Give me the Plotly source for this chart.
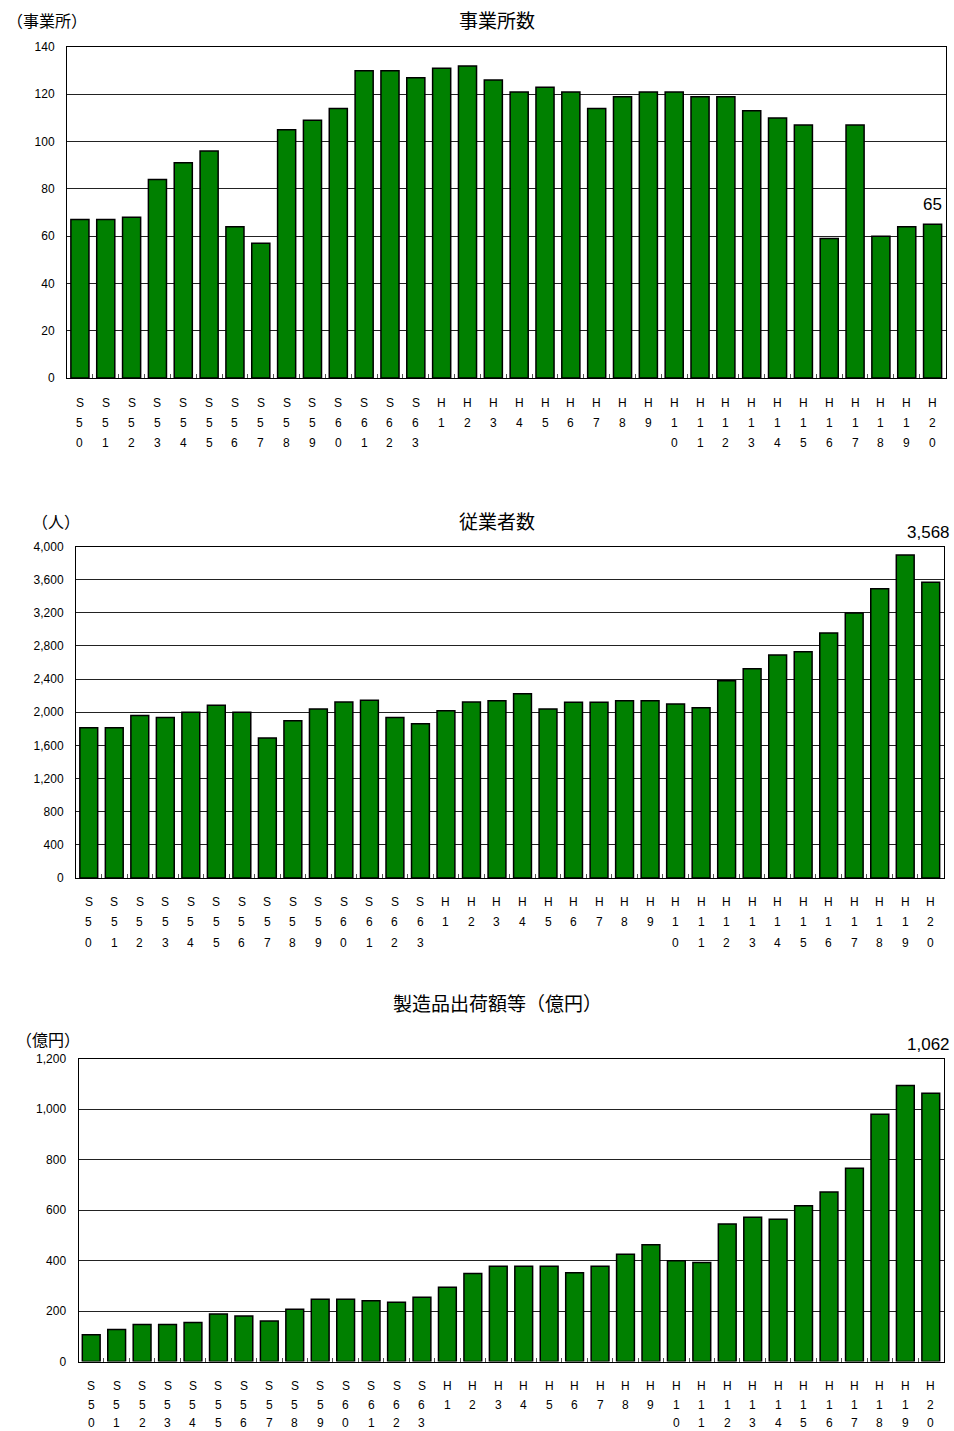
import plotly.graph_objects as go

# Fiscal years: Showa 50-63, Heisei 1-20
years = [f"S{n}" for n in range(50, 64)] + [f"H{n}" for n in range(1, 21)]

establishments = [67, 67, 68, 84, 91, 96, 64, 57, 105, 109, 114, 130, 130, 127,
                  131, 132, 126, 121, 123, 121, 114, 119, 121, 121, 119, 119, 113, 110,
                  107, 59, 107, 60, 64, 65]
employees = [1813, 1813, 1962, 1938, 1999, 2083, 1999, 1688, 1897, 2039, 2123, 2144, 1938, 1861,
             2018, 2123, 2139, 2224, 2039, 2120, 2120, 2139, 2139, 2099, 2054, 2381, 2526, 2691,
             2731, 2957, 3199, 3489, 3896, 3568]
shipments = [106, 127, 147, 147, 154, 188, 180, 160, 207, 247, 247, 241, 235, 254,
             294, 349, 377, 377, 377, 351, 377, 425, 462, 399, 392, 545, 571, 563,
             617, 671, 765, 979, 1093, 1062]

titles = ["事業所数", "従業者数", "製造品出荷額等（億円）"]
units = ["（事業所）", "（人）", "（億円）"]
y_ticks = [list(range(0, 141, 20)), list(range(0, 4001, 400)), list(range(0, 1201, 200))]

W, H = 954, 1431
CJK = "Noto Sans CJK JP"
NUM = "Liberation Sans, Arial, sans-serif"
GREEN = "#008000"

# pixel boxes of the three plot areas: (left, right, top, bottom)
boxes = [(67, 945.5, 47, 378), (76, 943.5, 546.5, 878), (78.5, 943.5, 1058.5, 1361.5)]
title_y = [20, 520, 1002]
title_size = [19, 19, 19]
unit_pos = [(5, 20), (30, 521), (14, 1039)]
# vertical offsets (px below the plot) of the three stacked label rows
row_offsets = [[25, 45, 65], [24, 44, 65], [24, 43, 61]]

fig = go.Figure()
series = [establishments, employees, shipments]

layout = dict(
    width=W, height=H,
    margin=dict(l=0, r=0, t=0, b=0, autoexpand=False),
    paper_bgcolor="white", plot_bgcolor="white",
    showlegend=False, bargap=0.3,
)
annotations = []

for i, (vals, box) in enumerate(zip(series, boxes)):
    sfx = "" if i == 0 else str(i + 1)
    left, right, top, bottom = box
    fig.add_trace(go.Bar(
        x=years, y=vals, xaxis="x" + sfx, yaxis="y" + sfx,
        marker=dict(color=GREEN, line=dict(color="black", width=1.5)),
        hoverinfo="x+y",
    ))
    layout["xaxis" + sfx] = dict(
        domain=[left / W, right / W], anchor="y" + sfx, automargin=False,
        type="category", categoryorder="array", categoryarray=years,
        range=[-0.5, len(years) - 0.5],
        showticklabels=False, ticks="inside", tickson="boundaries",
        ticklen=4, tickcolor="#555", tickwidth=1,
        showline=True, linecolor="black", linewidth=1, mirror=True,
        showgrid=False, zeroline=False, fixedrange=True,
    )
    yt = y_ticks[i]
    layout["yaxis" + sfx] = dict(
        domain=[1 - bottom / H, 1 - top / H], anchor="x" + sfx, automargin=False,
        range=[yt[0], yt[-1]], tickmode="array", tickvals=yt,
        ticktext=[f"{v:,}" for v in yt],
        tickfont=dict(family=NUM, size=12, color="black"),
        ticks="outside", ticklen=9, tickcolor="rgba(0,0,0,0)",
        showline=True, linecolor="black", linewidth=1, mirror=True,
        showgrid=True, gridcolor="#222", gridwidth=1,
        zeroline=False, fixedrange=True,
    )

    # chart title and unit label
    annotations.append(dict(
        text=titles[i], xref="paper", yref="paper", x=497 / W, y=1 - title_y[i] / H,
        xanchor="center", yanchor="middle", showarrow=False,
        font=dict(family=CJK, size=title_size[i], color="black"),
    ))
    ux, uy = unit_pos[i]
    annotations.append(dict(
        text=units[i], xref="paper", yref="paper", x=ux / W, y=1 - uy / H,
        xanchor="left", yanchor="middle", showarrow=False,
        font=dict(family=CJK, size=16, color="black"),
    ))

    # category labels stacked one character per row
    for cat in years:
        for r, ch in enumerate(cat):
            annotations.append(dict(
                text=ch, xref="x" + sfx, yref="paper", x=cat,
                y=1 - (bottom + row_offsets[i][r]) / H,
                xanchor="center", yanchor="middle", showarrow=False, borderpad=0,
                font=dict(family=NUM, size=12, color="black"),
            ))

    # value of the latest year
    last = vals[-1]
    if i == 0:
        annotations.append(dict(
            text=f"{last:,}", xref="x" + sfx, yref="y" + sfx, x=years[-1], y=last,
            xanchor="center", yanchor="bottom", yshift=8, showarrow=False,
            font=dict(family=NUM, size=17, color="black"),
        ))
    else:
        annotations.append(dict(
            text=f"{last:,}", xref="x" + sfx, yref="paper", x=years[-1],
            y=1 - (top - 14) / H, xanchor="center", yanchor="middle",
            xshift=-2, showarrow=False,
            font=dict(family=NUM, size=17, color="black"),
        ))

layout["annotations"] = annotations
fig.update_layout(**layout)
fig.write_html("out.html")
